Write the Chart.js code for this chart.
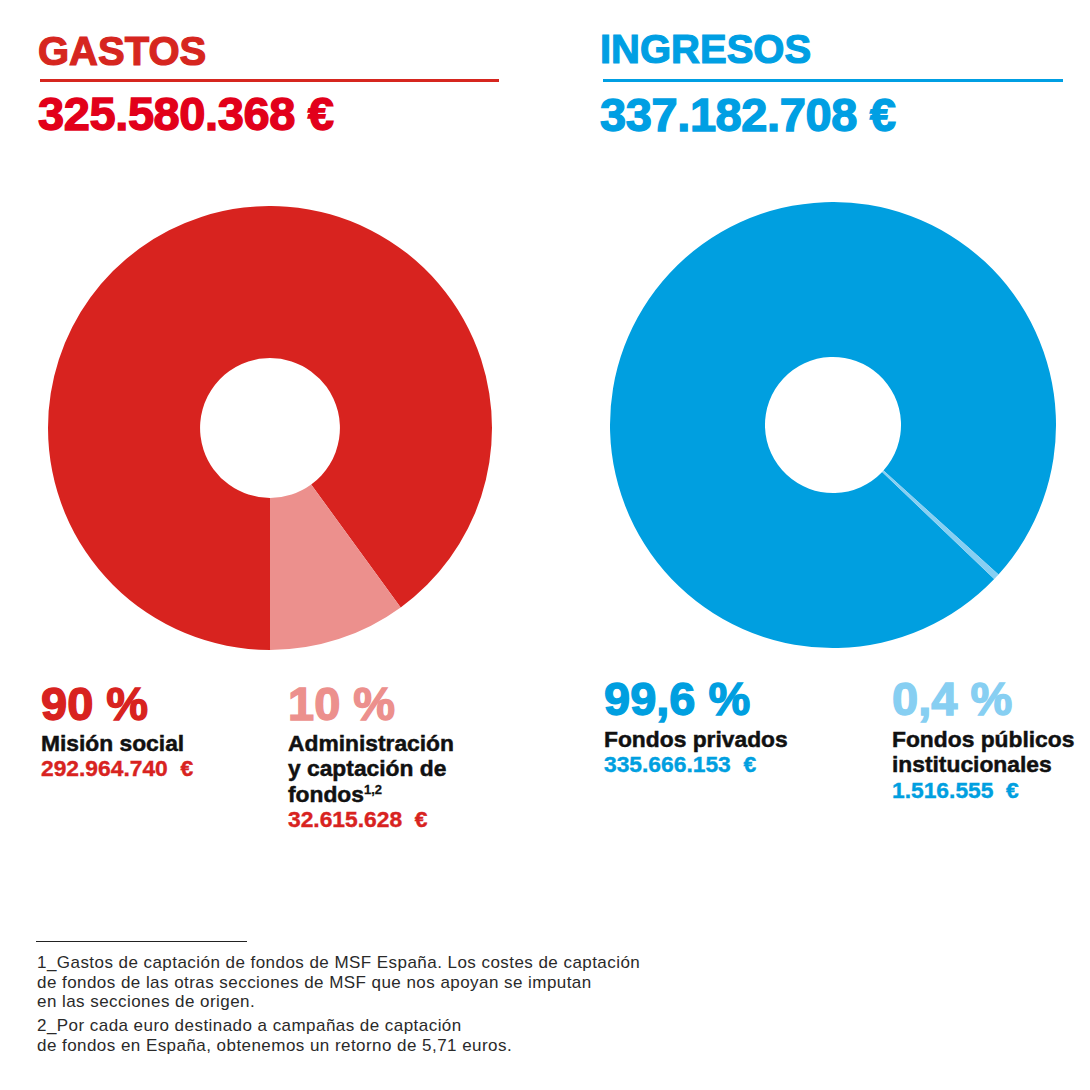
<!DOCTYPE html>
<html>
<head>
<meta charset="utf-8">
<script src="https://cdn.jsdelivr.net/npm/chart.js@4/dist/chart.umd.min.js"></script>
<style>
  html, body { margin:0; padding:0; background:#fff; }
  body { width:1090px; height:1090px; position:relative; overflow:hidden; font-family:"Liberation Sans", Arial, sans-serif; }
  .abs { position:absolute; white-space:nowrap; }
  .h1 { font-weight:700; font-size:40px; line-height:40px; -webkit-text-stroke:1.2px currentColor; }
  .big { font-weight:700; font-size:47px; line-height:47px; letter-spacing:-0.4px; -webkit-text-stroke:1.4px currentColor; }
  .pct { font-weight:700; font-size:47px; line-height:47px; -webkit-text-stroke:1.4px currentColor; }
  .lbl { font-weight:700; font-size:22.8px; line-height:25.5px; color:#111; -webkit-text-stroke:0.5px currentColor; }
  .val { font-weight:700; font-size:22.8px; line-height:25.5px; -webkit-text-stroke:0.4px currentColor; }
  .rule { position:absolute; height:3px; }
  .chartbox { position:absolute; }
  .foot { position:absolute; left:37px; font-size:17px; line-height:19.5px; letter-spacing:0.45px; color:#2a2a2a; white-space:nowrap; }
  sup { font-size:13px; line-height:0; vertical-align:8px; -webkit-text-stroke:0.3px currentColor; }
</style>
</head>
<body>
<div class="abs h1" id="tL" style="left:38px; top:31px; color:#d6261f;"></div>
<div class="rule" style="left:40px; top:79px; width:459px; background:#d6261f;"></div>
<div class="abs big" id="totL" style="left:38px; top:90px; color:#e2001a;"></div>

<div class="abs h1" id="tR" style="left:600px; top:29px; color:#009fe3;"></div>
<div class="rule" style="left:603px; top:79px; width:460px; background:#009fe3;"></div>
<div class="abs big" id="totR" style="left:600px; top:91px; color:#009fe3;"></div>

<div class="chartbox" style="left:48px; top:206px; width:444px; height:444px;"><canvas id="cL"></canvas></div>
<div class="chartbox" style="left:610px; top:202px; width:446px; height:446px;"><canvas id="cR"></canvas></div>

<div id="labels"></div>

<div style="position:absolute; left:36px; top:941px; width:211px; height:1px; background:#222;"></div>
<div class="foot" style="top:953px;">1_Gastos de captación de fondos de MSF España. Los costes de captación<br>de fondos de las otras secciones de MSF que nos apoyan se imputan<br>en las secciones de origen.</div>
<div class="foot" style="top:1016px;">2_Por cada euro destinado a campañas de captación<br>de fondos en España, obtenemos un retorno de 5,71 euros.</div>

<script>
// ---- data ----
const titles = ["GASTOS", "INGRESOS"];
const totals = ["325.580.368 €", "337.182.708 €"];
const gastosCategories = ["Misión social", "Administración y captación de fondos"];
const gastosValues = [292964740, 32615628];
const gastosPct = ["90 %", "10 %"];
const gastosValueLabels = ["292.964.740  €", "32.615.628  €"];
const ingresosCategories = ["Fondos privados", "Fondos públicos institucionales"];
const ingresosValues = [335666153, 1516555];
const ingresosPct = ["99,6 %", "0,4 %"];
const ingresosValueLabels = ["335.666.153  €", "1.516.555  €"];

const RED = "#d8231f", PINK = "#ec908d", BLUE = "#009fe0", LBLUE = "#87cff2";

document.getElementById("tL").textContent = titles[0];
document.getElementById("tR").textContent = titles[1];
document.getElementById("totL").textContent = totals[0];
document.getElementById("totR").textContent = totals[1];

// labels under charts
const labelSpecs = [
  {x:41, pctTop:680, lblTop:730.5, pct:gastosPct[0], pctColor:RED, lines:["Misión social"], val:gastosValueLabels[0], valColor:RED},
  {x:288, pctTop:680, lblTop:730.5, pct:gastosPct[1], pctColor:PINK, lines:["Administración","y captación de","fondos<sup>1,2</sup>"], val:gastosValueLabels[1], valColor:RED},
  {x:604, pctTop:675, lblTop:726.5, pct:ingresosPct[0], pctColor:BLUE, lines:["Fondos privados"], val:ingresosValueLabels[0], valColor:BLUE},
  {x:892, pctTop:675, lblTop:726.5, pct:ingresosPct[1], pctColor:LBLUE, lines:["Fondos públicos","institucionales"], val:ingresosValueLabels[1], valColor:BLUE}
];
const host = document.getElementById("labels");
labelSpecs.forEach(s => {
  const p = document.createElement("div");
  p.className = "abs pct"; p.style.left = s.x + "px"; p.style.top = s.pctTop + "px"; p.style.color = s.pctColor;
  p.textContent = s.pct;
  host.appendChild(p);
  const b = document.createElement("div");
  b.className = "abs"; b.style.left = s.x + "px"; b.style.top = s.lblTop + "px";
  b.innerHTML = s.lines.map(l => '<div class="lbl">' + l + '</div>').join("") +
    '<div class="val" style="color:' + s.valColor + '">' + s.val.replace(/ /g, "\u00a0") + '</div>';
  host.appendChild(b);
});

function donut(id, cats, vals, colors, rotation, cutout) {
  new Chart(document.getElementById(id), {
    type: "doughnut",
    data: { labels: cats, datasets: [{ data: vals, backgroundColor: colors, borderWidth: 0, hoverOffset: 0 }] },
    options: {
      responsive: true, maintainAspectRatio: false, animation: false,
      rotation: rotation, cutout: cutout,
      layout: { padding: 0 },
      plugins: { legend: { display: false }, tooltip: { enabled: false } },
      events: []
    }
  });
}
donut("cL", gastosCategories, gastosValues, [RED, PINK], 180, "31.5%");
donut("cR", ingresosCategories, ingresosValues, [BLUE, LBLUE], 133.7, "30.5%");
</script>
</body>
</html>
